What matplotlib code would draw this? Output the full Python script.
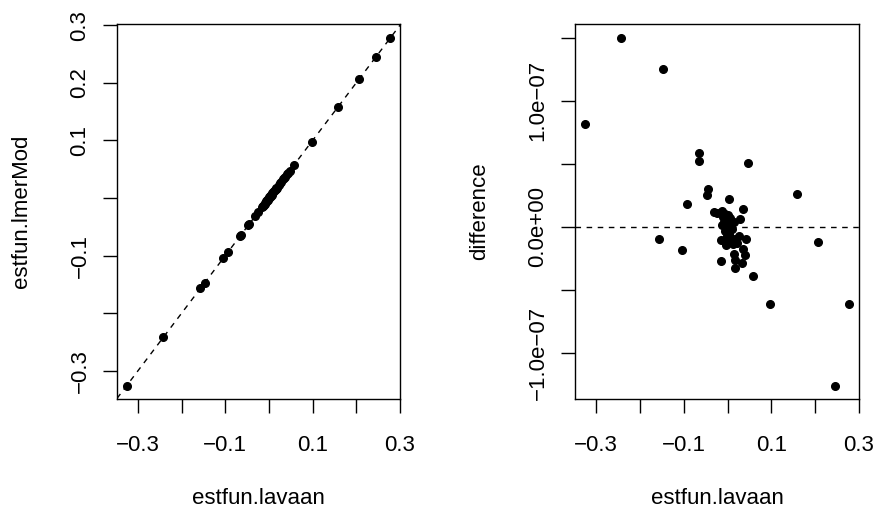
import matplotlib
matplotlib.use("Agg")
import matplotlib.pyplot as plt
import numpy as np

plt.rcParams['font.family'] = ['Liberation Sans', 'DejaVu Sans']

# estfun values
estfun_lavaan = [-0.326, -0.242, -0.157, -0.147, -0.1045, -0.093, -0.0655, -0.065,
                 -0.047, -0.045, -0.031, -0.025, -0.015, -0.014, -0.0135, -0.012,
                 -0.010, -0.008, -0.006, -0.005, -0.004, -0.003, -0.002, 0.000,
                 0.001, 0.002, 0.003, 0.004, 0.005, 0.006, 0.008, 0.010,
                 0.012, 0.014, 0.0156, 0.016, 0.017, 0.018, 0.022, 0.0255,
                 0.028, 0.033, 0.035, 0.036, 0.041, 0.043, 0.047, 0.058,
                 0.098, 0.158, 0.206, 0.245, 0.278]
estfun_lmer = [-0.326, -0.242, -0.157, -0.147, -0.1045, -0.093, -0.0655, -0.065,
               -0.047, -0.045, -0.031, -0.025, -0.015, -0.014, -0.0135, -0.012,
               -0.010, -0.008, -0.006, -0.005, -0.004, -0.003, -0.002, 0.000,
               0.001, 0.002, 0.003, 0.004, 0.005, 0.006, 0.008, 0.010,
               0.012, 0.014, 0.0156, 0.016, 0.017, 0.018, 0.022, 0.0255,
               0.028, 0.033, 0.035, 0.036, 0.041, 0.043, 0.047, 0.058,
               0.098, 0.158, 0.206, 0.245, 0.278]
difference = [0.813e-7, 1.500e-7, -0.098e-7, 1.249e-7, -0.188e-7, 0.178e-7, 0.582e-7, 0.521e-7,
              0.249e-7, 0.299e-7, 0.114e-7, 0.106e-7, -0.270e-7, -0.108e-7, 0.125e-7, 0.010e-7,
              0.080e-7, 0.040e-7, -0.030e-7, 0.100e-7, 0.000e-7, -0.148e-7, -0.070e-7, 0.090e-7,
              -0.100e-7, 0.030e-7, -0.050e-7, 0.220e-7, 0.070e-7, -0.080e-7, 0.020e-7, -0.020e-7,
              -0.137e-7, 0.040e-7, -0.219e-7, -0.264e-7, -0.328e-7, -0.100e-7, -0.130e-7, -0.074e-7,
              0.059e-7, -0.286e-7, -0.180e-7, 0.140e-7, -0.227e-7, -0.098e-7, 0.505e-7, -0.391e-7,
              -0.616e-7, 0.262e-7, -0.121e-7, -1.262e-7, -0.616e-7]

x_ticks = [-0.3, -0.2, -0.1, 0.0, 0.1, 0.2, 0.3]
x_labels = ['\u22120.3', '', '\u22120.1', '', '0.1', '', '0.3']
yl_labels = ['\u22120.3', '', '\u22120.1', '', '0.1', '0.2', '0.3']
yr_ticks = [-1.0e-7, -0.5e-7, 0.0, 0.5e-7, 1.0e-7, 1.5e-7]
yr_labels = ['\u22121.0e\u221207', '', '0.0e+00', '', '1.0e\u221207', '']

fs = 16
fig = plt.figure(figsize=(8.75, 5.09), dpi=100)
ax1 = fig.add_axes([117/875, 110/509, 283/875, 375/509])
ax2 = fig.add_axes([575/875, 110/509, 284/875, 375/509])

for ax in (ax1, ax2):
    for s in ax.spines.values():
        s.set_linewidth(1.0)
    ax.tick_params(direction='out', length=10, width=1, labelsize=fs)
    ax.tick_params(axis='x', pad=16)
    ax.tick_params(axis='y', pad=9)
    ax.set_xlim(-0.348, 0.300)
    ax.set_xticks(x_ticks)
    ax.set_xticklabels(x_labels)
    ax.set_xlabel('estfun.lavaan', fontsize=fs, labelpad=23)

ax1.plot(estfun_lavaan, estfun_lmer, 'o', color='black', markersize=5.5)
ax1.axline((0, 0), slope=1, color='black', lw=1, dashes=(4, 4))
ax1.set_ylim(-0.349, 0.302)
ax1.set_yticks(x_ticks)
ax1.set_yticklabels(yl_labels, rotation=90, va='center')
ax1.set_ylabel('estfun.lmerMod', fontsize=fs, labelpad=27)

ax2.plot(estfun_lavaan, difference, 'o', color='black', markersize=5.5)
ax2.axhline(0, color='black', lw=1, dashes=(4, 4))
ax2.set_ylim(-1.367e-7, 1.609e-7)
ax2.set_yticks(yr_ticks)
ax2.set_yticklabels(yr_labels, rotation=90, va='center')
ax2.set_ylabel('difference', fontsize=fs, labelpad=27)

fig.savefig('out.png', dpi=100)
